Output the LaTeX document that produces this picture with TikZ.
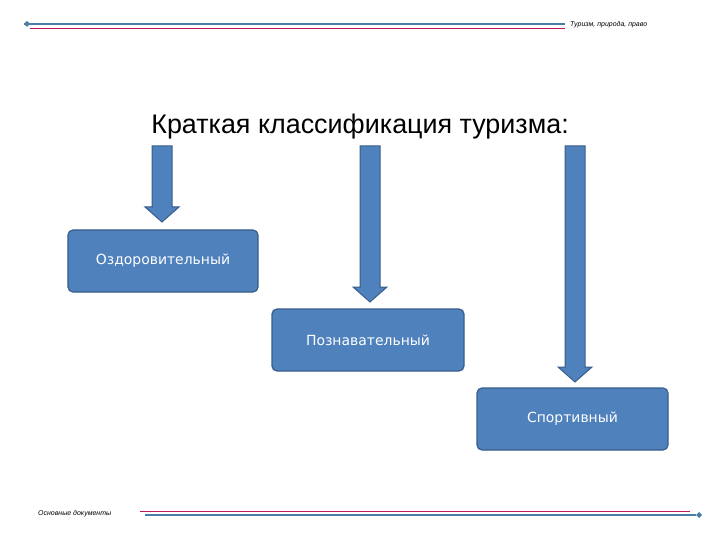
\documentclass[tikz,border=0pt]{standalone}
\usepackage{fontspec}
\setmainfont{Liberation Sans}
\newfontfamily\boxfont{DejaVu Sans}
\usetikzlibrary{shapes.arrows}
\definecolor{fillb}{HTML}{4F81BD}
\definecolor{edgeb}{HTML}{385D8A}
\definecolor{lineb}{HTML}{4A7EA8}
\definecolor{liner}{HTML}{C0185A}
\begin{document}
\begin{tikzpicture}[x=1bp,y=-1bp,
  cat/.style={draw=edgeb,line width=1.2bp,fill=fillb,rounded corners=5bp,text=white,font=\boxfont\fontsize{14}{16}\selectfont,inner sep=0},
  barrow/.style={draw=edgeb,line width=1bp,fill=fillb},
  small/.style={font=\itshape\fontsize{7}{8}\selectfont,inner sep=0}]
\useasboundingbox (0,0) rectangle (720,540);
\draw[lineb,line width=2bp] (24,24) -- (565,24);
\fill[lineb] (24,24) -- (27,21) -- (30,24) -- (27,27) -- cycle;
\draw[liner,line width=0.8bp] (30,28) -- (565,28);
\node[small,anchor=west] (hdr) at (570,25) {Туризм, природа, право};
\draw[liner,line width=0.8bp] (140,511) -- (690,511);
\draw[lineb,line width=2bp] (145,515) -- (696,515);
\fill[lineb] (696,515) -- (699,512) -- (702,515) -- (699,518) -- cycle;
\node[small,anchor=west] (ftr) at (38,514) {Основные документы};
\node[font=\fontsize{27}{30}\selectfont,inner sep=0] (title) at (360,127) {Краткая классификация туризма:};
\node[cat,minimum width=190bp,minimum height=62bp] (b1) at (163,261) {Оздоровительный};
\node[cat,minimum width=192bp,minimum height=62bp] (b2) at (368,340) {Познавательный};
\node[cat,minimum width=191bp,minimum height=62bp] (b3) at (572.5,419) {Спортивный};
\foreach \cx/\yb in {162/222,370/302,575/382}{
  \draw[barrow] (\cx-10,146) -- (\cx+10,146) -- (\cx+10,\yb-15) -- (\cx+17,\yb-15) -- (\cx,\yb) -- (\cx-17,\yb-15) -- (\cx-10,\yb-15) -- cycle;
}
\end{tikzpicture}
\end{document}
